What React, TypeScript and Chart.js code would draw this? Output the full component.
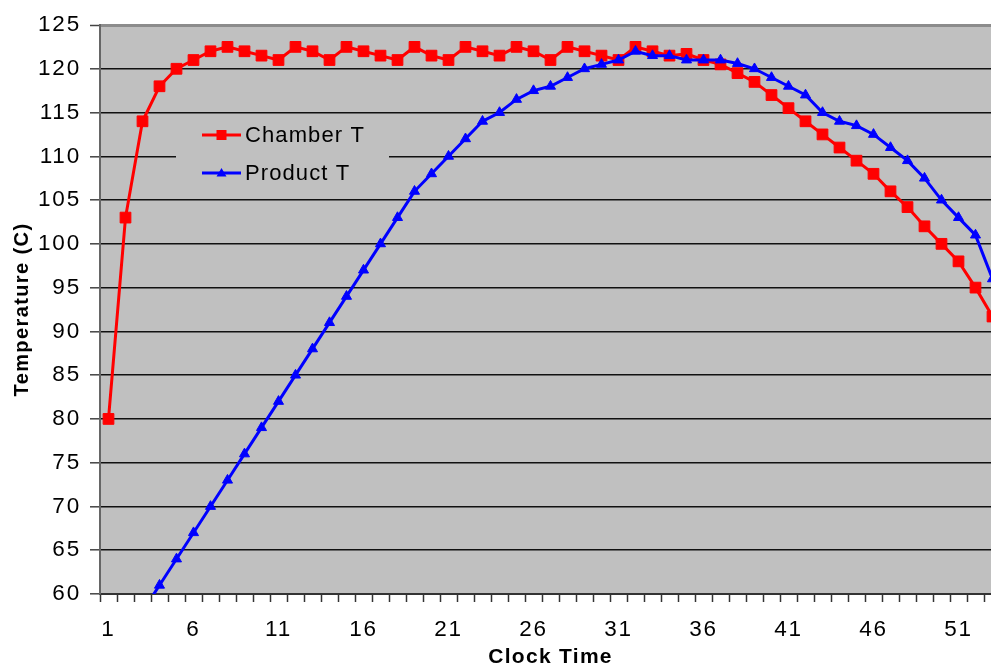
import React, { useEffect, useRef } from 'react';
import { Chart, registerables } from 'chart.js';

Chart.register(...registerables);

// ---- data ----
const clockTimes = [
  '1', '2', '3', '4', '5', '6', '7', '8', '9', '10',
  '11', '12', '13', '14', '15', '16', '17', '18', '19', '20',
  '21', '22', '23', '24', '25', '26', '27', '28', '29', '30',
  '31', '32', '33', '34', '35', '36', '37', '38', '39', '40',
  '41', '42', '43', '44', '45', '46', '47', '48', '49', '50',
  '51', '52', '53',
];

const chamberT = [
  80, 103, 114, 118, 120, 121, 122, 122.5, 122, 121.5,
  121, 122.5, 122, 121, 122.5, 122, 121.5, 121, 122.5, 121.5,
  121, 122.5, 122, 121.5, 122.5, 122, 121, 122.5, 122, 121.5,
  121, 122.5, 122, 121.5, 121.7, 121, 120.5, 119.5, 118.5, 117,
  115.5, 114, 112.5, 111, 109.5, 108, 106, 104.2, 102, 100,
  98, 95, 91.7,
];

const productT = [
  null, null, 58, 61, 64, 67, 70, 73, 76, 79,
  82, 85, 88, 91, 94, 97, 100, 103, 106, 108,
  110, 112, 114, 115, 116.5, 117.5, 118, 119, 120, 120.5,
  121, 122, 121.5, 121.5, 121, 121, 121, 120.6, 120, 119,
  118, 117, 115, 114, 113.5, 112.5, 111, 109.5, 107.5, 105,
  103, 101, 96,
];

const seriesNames = ['Chamber T', 'Product T'];
const seriesColors = ['#FF0000', '#0000FF'];
const yMin = 60;
const yMax = 125;
const yStep = 5;
const xTitle = 'Clock Time';
const yTitle = 'Temperature (C)';

const W = 1010;
const H = 668;
const FONT = "'Liberation Sans', Arial, sans-serif";

let spacingOverride: string | null = null;

const plotBg = {
  id: 'plotBg',
  beforeDraw(chart: any) {
    const { ctx, chartArea: a } = chart;
    ctx.save();
    ctx.fillStyle = '#C0C0C0';
    ctx.fillRect(a.left, a.top, a.right - a.left, a.bottom - a.top);
    ctx.restore();
  },
};

const insideLegend = {
  id: 'insideLegend',
  afterDatasetsDraw(chart: any) {
    const { ctx, chartArea: a } = chart;
    const bx = a.left + 76;
    const by = a.top + 91;
    ctx.save();
    ctx.fillStyle = '#C0C0C0';
    ctx.fillRect(bx, by, 213, 80);
    chart.data.datasets.forEach((ds: any, i: number) => {
      const y = by + 19 + i * 38;
      const x0 = bx + 26;
      const x1 = bx + 65;
      const cx = (x0 + x1) / 2;
      ctx.strokeStyle = ds.borderColor;
      ctx.lineWidth = 3;
      ctx.beginPath();
      ctx.moveTo(x0, y);
      ctx.lineTo(x1, y);
      ctx.stroke();
      ctx.fillStyle = ds.borderColor;
      if (ds.pointStyle === 'rect') {
        ctx.fillRect(cx - 5, y - 5, 10, 10);
      } else {
        ctx.beginPath();
        ctx.moveTo(cx, y - 5);
        ctx.lineTo(cx + 5, y + 3.5);
        ctx.lineTo(cx - 5, y + 3.5);
        ctx.closePath();
        ctx.fill();
      }
      ctx.fillStyle = '#000';
      ctx.font = `22px ${FONT}`;
      ctx.textAlign = 'left';
      ctx.textBaseline = 'middle';
      spacingOverride = '1.1px';
      ctx.fillText(ds.label, bx + 69, y + 1);
      spacingOverride = null;
    });
    ctx.restore();
  },
};

export default function App() {
  const ref = useRef<HTMLCanvasElement>(null);

  useEffect(() => {
    document.body.style.margin = '0';
    document.body.style.overflow = 'hidden';
    const canvas = ref.current!;
    const ctx: any = canvas.getContext('2d');
    const origFill = ctx.fillText;
    ctx.fillText = function (text: string, x: number, y: number, maxWidth?: number) {
      const f: string = ctx.font;
      const prev = ctx.letterSpacing;
      let ls = '1.8px';
      if (f.includes('bold')) ls = f.includes('20px') ? '1.4px' : '1.3px';
      if (spacingOverride) ls = spacingOverride;
      ctx.letterSpacing = ls;
      if (maxWidth === undefined) origFill.call(ctx, text, x, y);
      else origFill.call(ctx, text, x, y, maxWidth);
      ctx.letterSpacing = prev;
    };

    const chart = new Chart(canvas, {
      type: 'line',
      data: {
        labels: clockTimes,
        datasets: [
          {
            label: seriesNames[0],
            data: chamberT,
            borderColor: seriesColors[0],
            backgroundColor: seriesColors[0],
            pointBackgroundColor: seriesColors[0],
            pointBorderColor: seriesColors[0],
            pointStyle: 'rect',
            pointRadius: 7.6,
            pointBorderWidth: 1,
            borderWidth: 3,
            tension: 0,
            order: 1,
          },
          {
            label: seriesNames[1],
            data: productT as any,
            borderColor: seriesColors[1],
            backgroundColor: seriesColors[1],
            pointBackgroundColor: seriesColors[1],
            pointBorderColor: seriesColors[1],
            pointStyle: 'triangle',
            pointRadius: 5.8,
            pointBorderWidth: 1,
            borderWidth: 3,
            tension: 0,
            order: 0,
          },
        ],
      },
      options: {
        animation: false,
        responsive: false,
        devicePixelRatio: 1,
        layout: { padding: { top: 25, right: W - 1001, left: 0, bottom: 0 } },
        plugins: {
          legend: { display: false },
          tooltip: { enabled: false },
        },
        scales: {
          x: {
            type: 'category',
            offset: true,
            afterFit: (s: any) => { s.height = 74; },
            grid: {
              offset: true,
              drawOnChartArea: false,
              drawTicks: true,
              tickLength: 8,
              tickColor: '#333',
              tickWidth: 1.5,
            },
            border: { color: '#333', width: 2 },
            ticks: {
              autoSkip: false,
              maxRotation: 0,
              padding: 14,
              color: '#000',
              font: { family: FONT, size: 22.5 },
              callback: (_v: any, i: number) => (i % 5 === 0 ? clockTimes[i] : ''),
            },
            title: {
              display: true,
              text: xTitle,
              color: '#000',
              font: { family: FONT, size: 21, weight: 'bold', lineHeight: 1 },
              padding: { top: 0, bottom: 0 },
            },
          },
          y: {
            min: yMin,
            max: yMax,
            afterFit: (s: any) => { s.width = 100; },
            grid: {
              color: (c: any) => (c.tick && c.tick.value === yMax ? '#8c8c8c' : '#111'),
              lineWidth: (c: any) => (c.tick && c.tick.value === yMax ? 3 : 1.6),
              tickLength: 10,
              tickColor: '#444',
              tickWidth: 1.5,
            },
            border: { color: '#666', width: 2 },
            ticks: {
              stepSize: yStep,
              autoSkip: false,
              padding: 9,
              color: '#000',
              font: { family: FONT, size: 22.5 },
            },
            title: {
              display: true,
              text: yTitle,
              color: '#000',
              font: { family: FONT, size: 20, weight: 'bold', lineHeight: 1 },
              padding: { top: 12, bottom: 0 },
            },
          },
        },
      },
      plugins: [plotBg, insideLegend],
    });

    return () => {
      chart.destroy();
      ctx.fillText = origFill;
    };
  }, []);

  return (
    <div style={{ width: 991, height: 668, overflow: 'hidden', position: 'relative' }}>
      <canvas ref={ref} width={W} height={H} style={{ width: W, height: H, display: 'block' }} />
    </div>
  );
}
